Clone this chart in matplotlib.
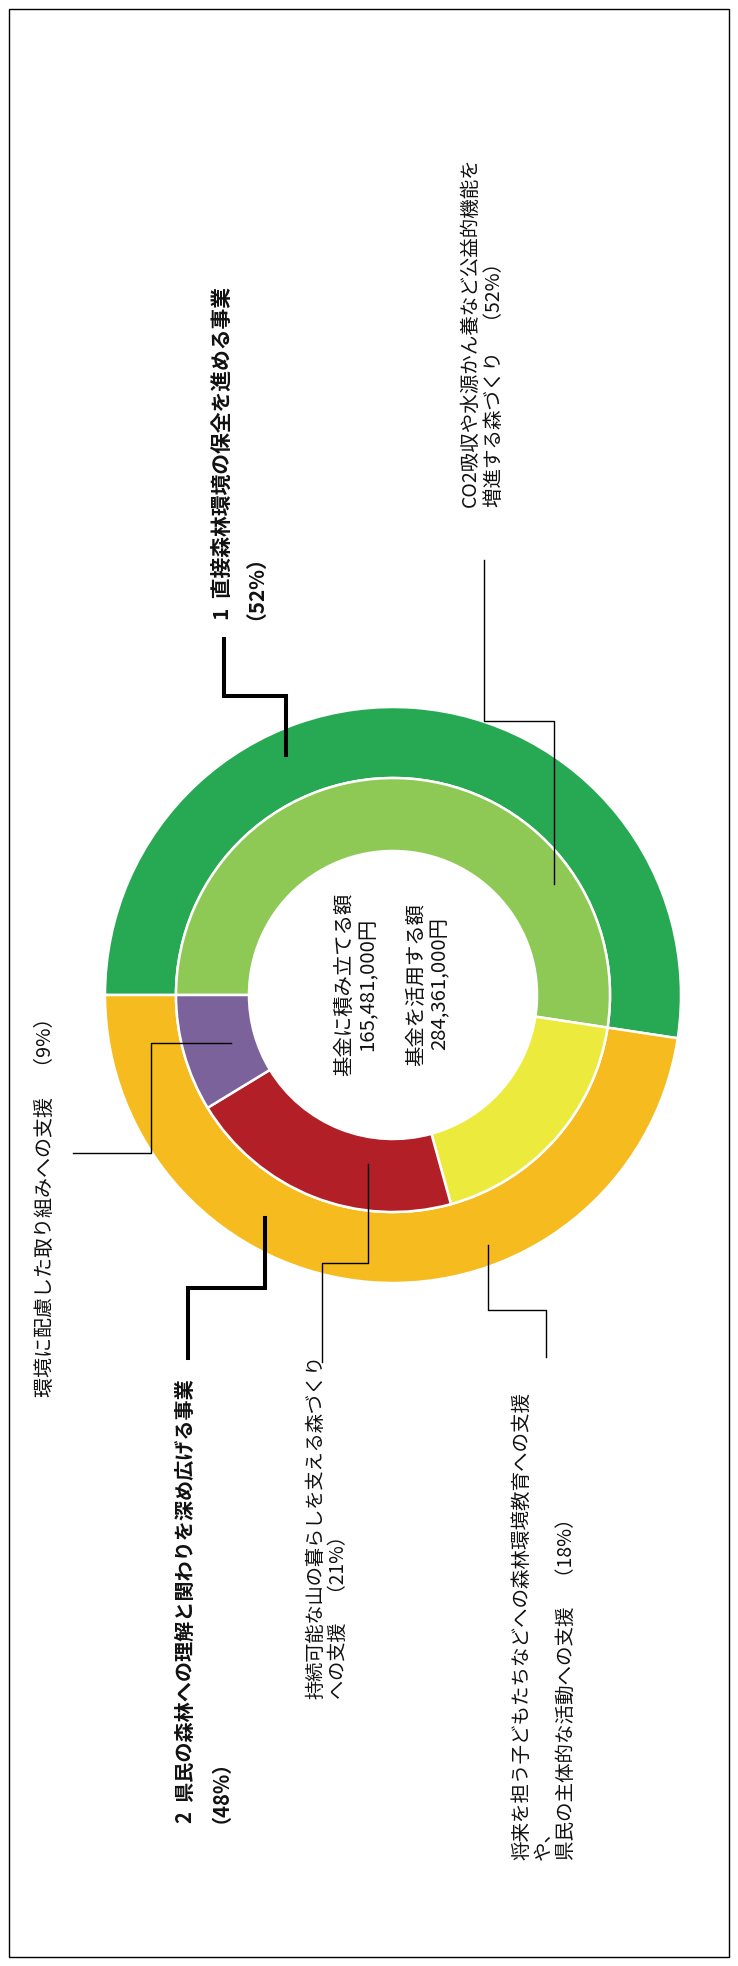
import matplotlib
matplotlib.use("Agg")
import matplotlib.pyplot as plt

plt.rcParams['font.family'] = ['Noto Sans CJK JP', 'DejaVu Sans']

W, H = 738, 1966

# outer ring: the two main programmes
outer_names = ['1  直接森林環境の保全を進める事業', '2  県民の森林への理解と関わりを深め広げる事業']
outer_pct = [52, 48]
outer_share = [52.4, 47.6]
outer_colors = ['#27a853', '#f5bb1f']

# inner ring: the four sub-programmes
inner_names = ['CO2吸収や水源かん養など公益的機能を\n増進する森づくり',
               '将来を担う子どもたちなどへの森林環境教育への支援\nや、\n県民の主体的な活動への支援',
               '持続可能な山の暮らしを支える森づくり\nへの支援',
               '環境に配慮した取り組みへの支援']
inner_pct = [52, 18, 21, 9]
inner_share = [52.4, 18.3, 20.6, 8.7]
inner_colors = ['#8fc955', '#eceb3d', '#b31f27', '#7b629b']

center_lines = ['基金に積み立てる額\n165,481,000円', '基金を活用する額\n284,361,000円']

fig = plt.figure(figsize=(W / 100, H / 100), dpi=100)

# donut
cx, cy, R = 393, 995, 288
r_mid, r_in = 217, 144
ax = fig.add_axes([(cx - R) / W, (H - cy - R) / H, 2 * R / W, 2 * R / H])
ax.pie(outer_share, radius=1, startangle=180, counterclock=False,
       colors=outer_colors,
       wedgeprops=dict(width=1 - r_mid / R, edgecolor='white', linewidth=1.8))
ax.pie(inner_share, radius=r_mid / R, startangle=180, counterclock=False,
       colors=inner_colors,
       wedgeprops=dict(width=(r_mid - r_in) / R, edgecolor='white', linewidth=1.8))
ax.set_xlim(-1, 1)
ax.set_ylim(-1, 1)
ax.set_aspect('equal')
ax.axis('off')

# overlay in pixel coordinates for leaders, texts and frame
ov = fig.add_axes([0, 0, 1, 1])
ov.set_xlim(0, W)
ov.set_ylim(H, 0)
ov.axis('off')

ov.add_patch(plt.Rectangle((9, 9), 720, 1948, fill=False, edgecolor='black', linewidth=1))

thick = 2.9
thin = 1.0
ov.plot([224, 224, 286, 286], [639, 696, 696, 755], color='black', lw=thick, solid_joinstyle='miter')
ov.plot([265, 265, 188, 188], [1218, 1288, 1288, 1358], color='black', lw=thick, solid_joinstyle='miter')
ov.plot([484, 484, 554, 554], [560, 721, 721, 884], color='black', lw=thin)
ov.plot([73, 151, 151, 231], [1153, 1153, 1043, 1043], color='black', lw=thin)
ov.plot([368, 368, 322, 322], [1164, 1263, 1263, 1362], color='black', lw=thin)
ov.plot([488, 488, 546, 546], [1245, 1310, 1310, 1357], color='black', lw=thin)


def vtext(xs, y, s, px, bold=False, ha='left'):
    # one rotated text per line, so the column spacing is set exactly
    for x, line in zip(xs, s.split('\n')):
        ov.text(x, y, line, rotation=90, rotation_mode='anchor', ha=ha, va='center',
                fontsize=px * 0.72, fontweight='bold' if bold else 'normal',
                color='#111111')


vtext([222, 245], 620, f'{outer_names[0]}\n（{outer_pct[0]}%）', 20.8, bold=True)
vtext([185, 210], 1823, f'{outer_names[1]}\n（{outer_pct[1]}%）', 20.1, bold=True)

vtext([470, 495], 507, f'{inner_names[0]}　（{inner_pct[0]}%）', 19.5)
vtext([522, 543, 566], 1860, f'{inner_names[1]}　（{inner_pct[1]}%）', 19.5)
vtext([316, 338], 1699, f'{inner_names[2]}　（{inner_pct[2]}%）', 19.2)
vtext([45], 1397, f'{inner_names[3]}　（{inner_pct[3]}%）', 20.0)

vtext([345, 368], 984, center_lines[0], 20.4, ha='center')
vtext([417, 440], 984, center_lines[1], 20.4, ha='center')

fig.savefig('out.png', dpi=100, facecolor='white')
